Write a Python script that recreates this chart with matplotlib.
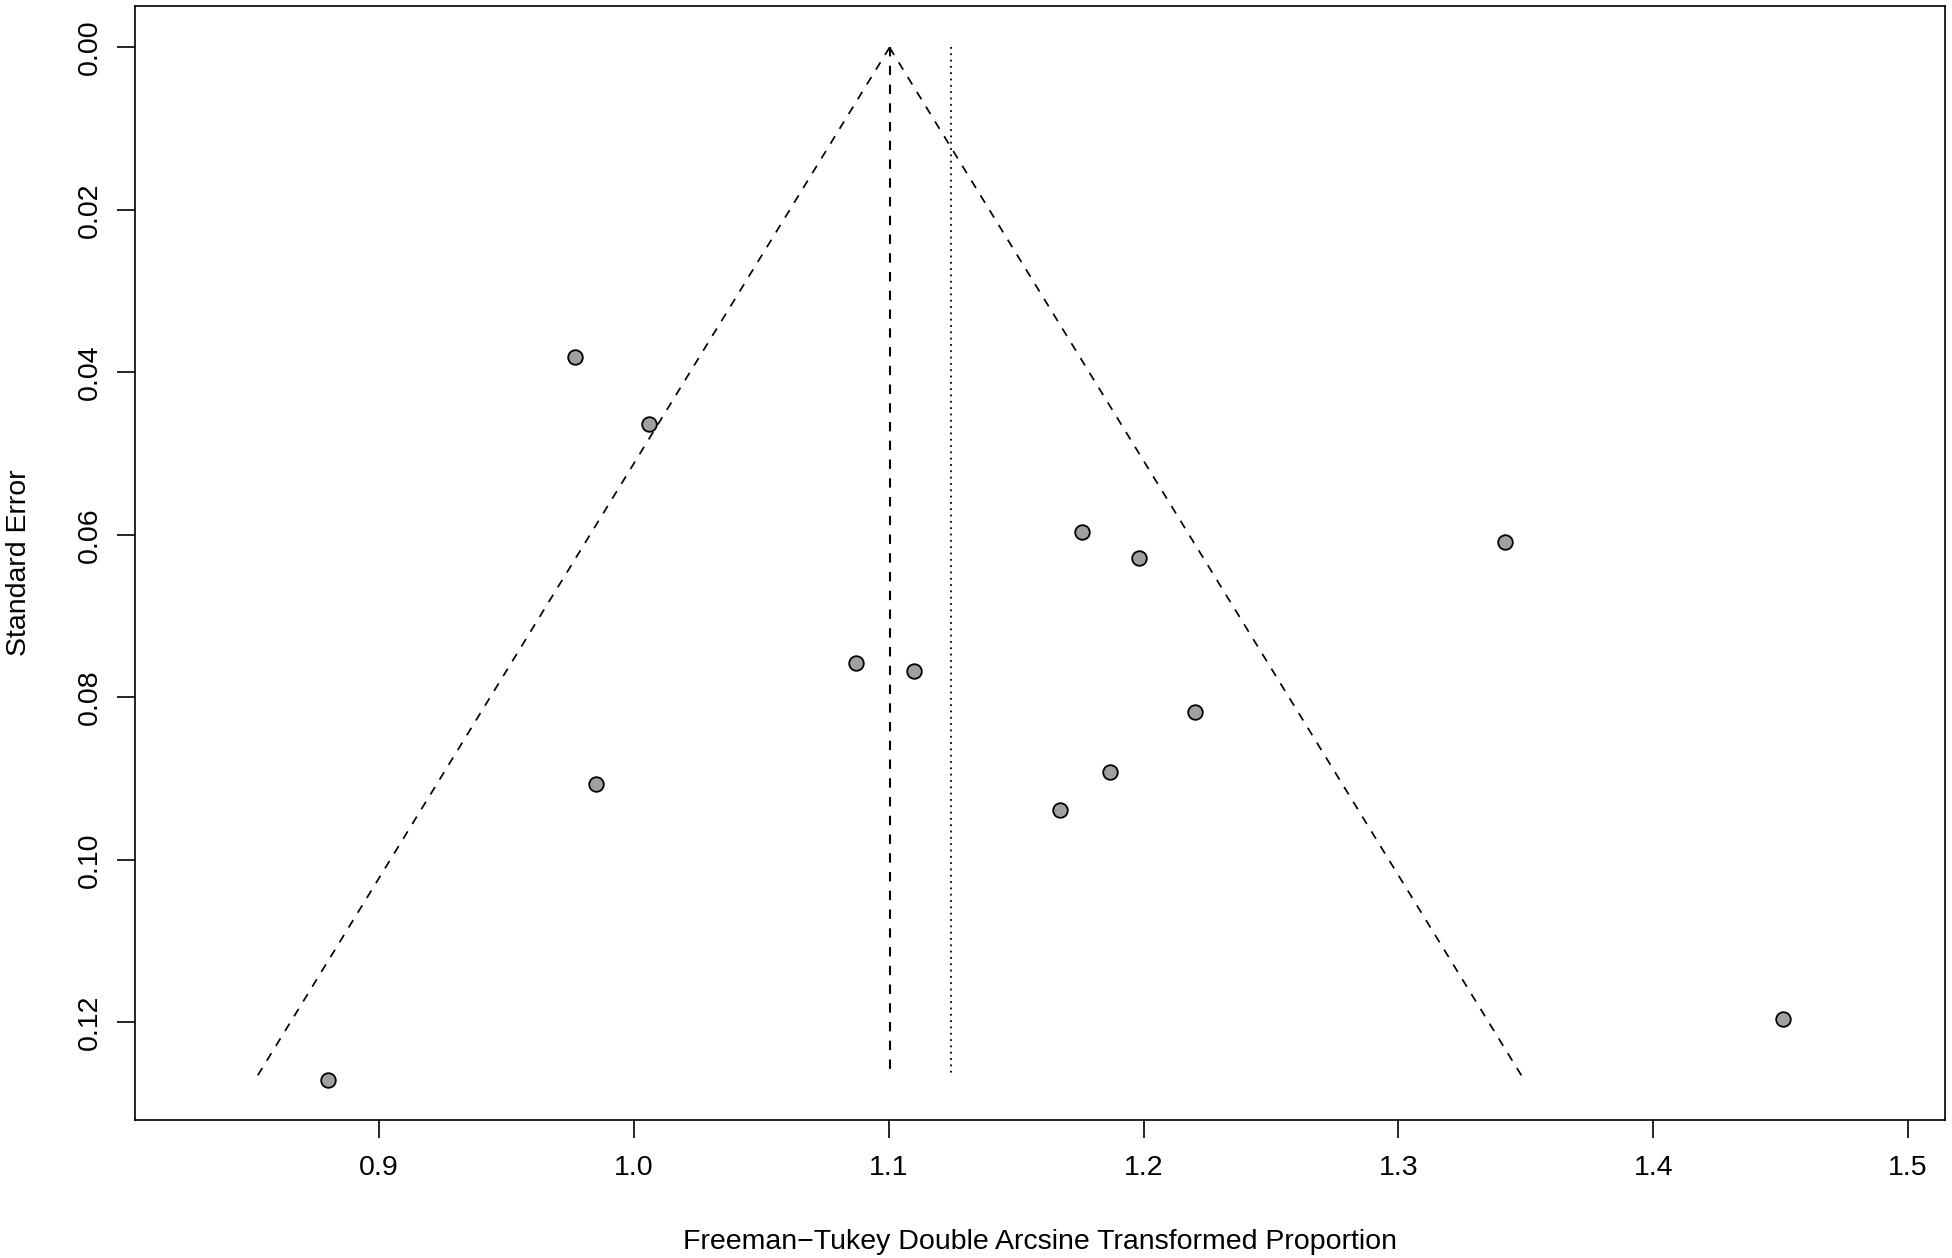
import matplotlib
matplotlib.use('Agg')
import matplotlib.pyplot as plt
import numpy as np

# study estimates (Freeman-Tukey transformed) and their standard errors
est = [0.977, 1.006, 1.176, 1.198, 1.342, 1.087, 1.110, 1.220, 1.187, 0.985, 1.167, 1.451, 0.880]
se = [0.0381, 0.0464, 0.0596, 0.0628, 0.0609, 0.0758, 0.0767, 0.0818, 0.0892, 0.0906, 0.0938, 0.1196, 0.1271]

pooled_fixed = 1.1003   # funnel centre
pooled_random = 1.1244  # dotted reference line
se_max = 0.1265

xticks = [0.9, 1.0, 1.1, 1.2, 1.3, 1.4, 1.5]
yticks = [0.00, 0.02, 0.04, 0.06, 0.08, 0.10, 0.12]

matplotlib.rcParams['font.family'] = ['Liberation Sans', 'DejaVu Sans']
matplotlib.rcParams['font.size'] = 20.5

fig = plt.figure(figsize=(19.52, 12.58), dpi=100)
ax = fig.add_axes([0.0692, 0.1097, 0.9272, 0.8855])

# funnel
se_line = np.array([0.0, se_max])
ax.plot(pooled_fixed - 1.96 * se_line, se_line, color='black', lw=1.25, linestyle=(0, (5, 5)))
ax.plot(pooled_fixed + 1.96 * se_line, se_line, color='black', lw=1.25, linestyle=(0, (5, 5)))
ax.plot([pooled_fixed, pooled_fixed], se_line, color='black', lw=1.5, linestyle=(0, (4.5, 4.5)))
ax.plot([pooled_random, pooled_random], se_line, color='black', lw=1.3, linestyle=(0, (1, 2.5)))

ax.plot(est, se, linestyle='none', marker='o', markersize=10.5,
        markerfacecolor='#a0a0a0', markeredgecolor='black', markeredgewidth=1.3)

ax.set_xlim(0.8042, 1.5145)
ax.set_ylim(0.1320, -0.0051)
ax.set_xticks(xticks)
ax.set_xticklabels(['%.1f' % v for v in xticks])
ax.set_yticks(yticks)
ax.set_yticklabels(['%.2f' % v for v in yticks], rotation=90, va='center')
ax.tick_params(length=13, width=1.2, pad=12)
ax.tick_params(axis='y', pad=10)
for s in ax.spines.values():
    s.set_linewidth(1.2)

fig.text(0.5 * (0.0692 + 0.9964), 1 - 1242 / 1258, 'Freeman\u2212Tukey Double Arcsine Transformed Proportion',
         ha='center', va='center', fontsize=20.5)
fig.text(19 / 1952, 0.5 * (0.1097 + 0.9952), 'Standard Error', rotation=90,
         ha='center', va='center', fontsize=20.5)

plt.savefig('out.png', dpi=100)
